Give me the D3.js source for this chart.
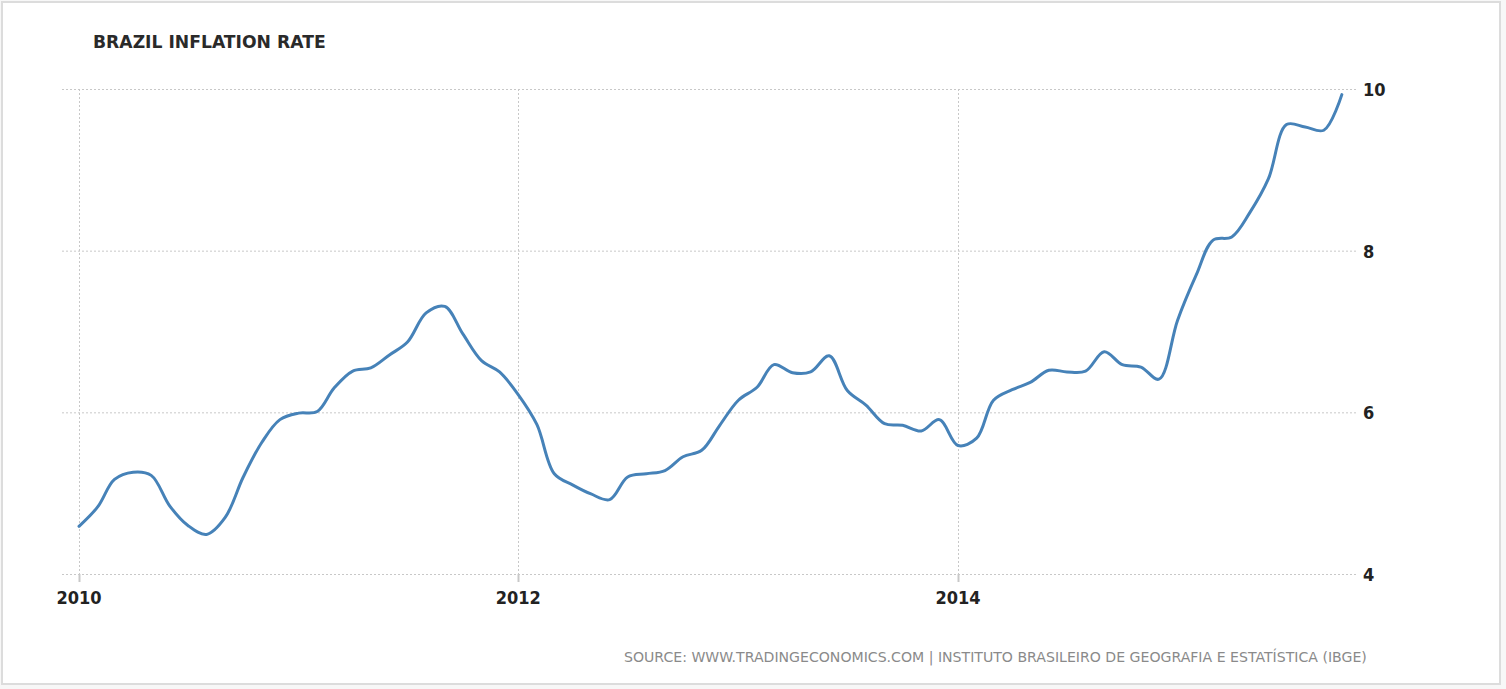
<!DOCTYPE html>
<html><head><meta charset="utf-8">
<script src="https://cdn.jsdelivr.net/npm/d3@7"></script>
<style>
html,body{margin:0;padding:0;background:#f7f7f7;}
svg{display:block;}
</style></head>
<body>
<svg id="c" width="1506" height="689"></svg>
<script>
const title = "BRAZIL INFLATION RATE";
const source = "SOURCE: WWW.TRADINGECONOMICS.COM | INSTITUTO BRASILEIRO DE GEOGRAFIA E ESTATÍSTICA (IBGE)";
const startYear = 2010;
const values = [
 4.59,4.83,5.17,5.26,5.22,4.84,4.60,4.49,4.70,5.20,5.63,5.91,
 5.99,6.01,6.30,6.51,6.55,6.71,6.87,7.23,7.31,6.97,6.64,6.50,
 6.22,5.85,5.24,5.10,4.99,4.92,5.20,5.24,5.28,5.45,5.53,5.84,
 6.15,6.31,6.59,6.49,6.50,6.70,6.27,6.09,5.86,5.84,5.77,5.91,
 5.59,5.68,6.15,6.28,6.37,6.52,6.50,6.51,6.75,6.59,6.56,6.41,
 7.14,7.70,8.13,8.17,8.47,8.89,9.56,9.53,9.49,9.93
];
const xTicks = [2010, 2012, 2014];
const yTicks = [4, 6, 8, 10];

const data = values.map((v,i)=>({date:new Date(startYear, i, 1), v}));
const svg = d3.select("#c");
const font = "'DejaVu Sans Condensed', 'DejaVu Sans', sans-serif";
const font2 = "'DejaVu Sans', sans-serif";

svg.append("rect").attr("x",2).attr("y",2).attr("width",1498).attr("height",682)
  .attr("fill","#fff").attr("stroke","#dcdcdc").attr("stroke-width",2);

const x = d3.scaleTime().domain([new Date(2010,0,1), new Date(2014,0,1)]).range([79, 958]);
const y = d3.scaleLinear().domain([4,10]).range([574, 89]);

// horizontal grid
const gy = svg.append("g");
gy.selectAll("line").data(yTicks).join("line")
  .attr("x1",62).attr("x2",1357)
  .attr("y1",d=>y(d)+0.5).attr("y2",d=>y(d)+0.5)
  .attr("stroke","#c8c8c8").attr("stroke-width",1).attr("stroke-dasharray","2,2");
gy.selectAll("text").data(yTicks).join("text")
  .attr("x",1363).attr("y",d=>y(d)+7)
  .attr("font-family",font).attr("font-size",18).attr("font-weight","bold").attr("fill","#222")
  .text(d=>d);

// vertical grid
const gx = svg.append("g");
const xd = xTicks.map(t=>new Date(t,0,1));
gx.selectAll("line.g").data(xd).join("line").attr("class","g")
  .attr("x1",d=>Math.round(x(d))+0.5).attr("x2",d=>Math.round(x(d))+0.5)
  .attr("y1",89).attr("y2",574)
  .attr("stroke","#c8c8c8").attr("stroke-width",1).attr("stroke-dasharray","2,2");
gx.selectAll("line.t").data(xd).join("line").attr("class","t")
  .attr("x1",d=>Math.round(x(d))+0.5).attr("x2",d=>Math.round(x(d))+0.5)
  .attr("y1",574).attr("y2",582)
  .attr("stroke","#c8c8c8").attr("stroke-width",2);
gx.selectAll("text").data(xd).join("text")
  .attr("x",d=>x(d)).attr("y",604).attr("text-anchor","middle")
  .attr("font-family",font).attr("font-size",18).attr("font-weight","bold").attr("fill","#222")
  .text(d=>d.getFullYear());

// line
const line = d3.line().x(d=>x(d.date)).y(d=>y(d.v)).curve(d3.curveCatmullRom.alpha(0.5));
svg.append("path").datum(data).attr("d",line)
  .attr("fill","none").attr("stroke","#4682b8").attr("stroke-width",3).attr("stroke-linejoin","round").attr("stroke-linecap","round");

svg.append("text").attr("x",93).attr("y",48)
  .attr("font-family",font2).attr("font-size",17.2).attr("font-weight","bold").attr("fill","#2a2a2a")
  .text(title);

svg.append("text").attr("x",624).attr("y",662)
  .attr("font-family",font2).attr("font-size",14.1).attr("fill","#8a8a8a")
  .text(source);
</script>
</body></html>
